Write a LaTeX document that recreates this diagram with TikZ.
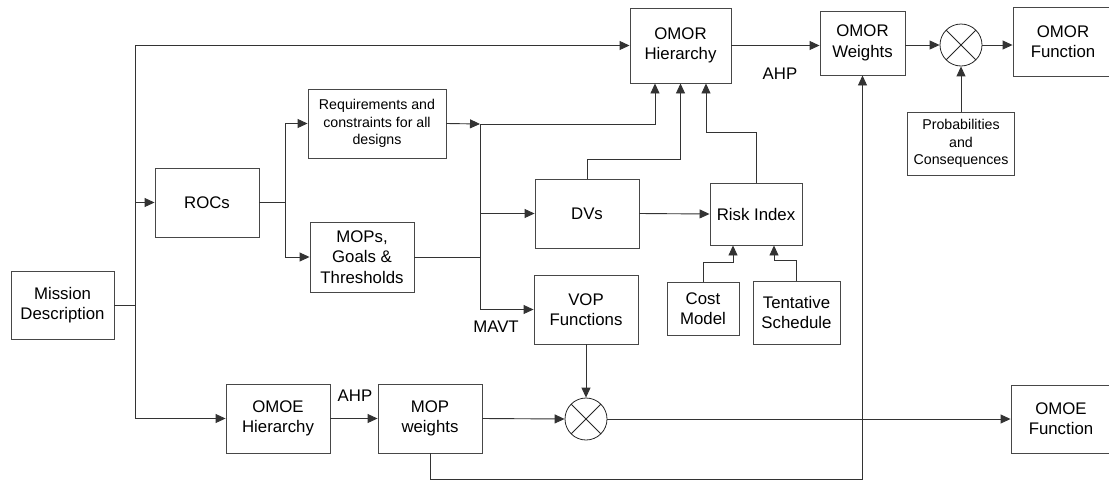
\documentclass[tikz,border=0pt]{standalone}
\usepackage{fontspec}
\setmainfont{Liberation Sans}
\usetikzlibrary{arrows.meta}
\newcommand\bigf{\fontsize{16.8}{20.3}\selectfont}
\newcommand\smallf{\fontsize{14.2}{17.3}\selectfont}
\begin{document}
\begin{tikzpicture}[x=1pt,y=-1pt,
  box/.style={draw=black!72, line width=0.9pt, inner sep=0pt, align=center, font=\bigf, text=black},
  ln/.style={draw=black!80, line width=0.9pt},
  arr/.style={ln, -{Triangle[length=10pt,width=9pt]}},
  mult/.style={circle, draw=black!85, line width=0.8pt, minimum size=42pt, inner sep=0pt,
    path picture={\draw[black!85,line width=0.8pt] (path picture bounding box.north west) -- (path picture bounding box.south east) (path picture bounding box.north east) -- (path picture bounding box.south west);}},
  lbl/.style={font=\bigf, inner sep=0pt}]
\useasboundingbox (0,0) rectangle (1109,480);
% nodes
\node[box, minimum width=103pt, minimum height=68pt] (mission) at (62.5,305) {Mission\\Description};
\node[box, minimum width=104pt, minimum height=69pt] (rocs) at (207,202.5) {ROCs};
\node[box, font=\smallf, minimum width=138pt, minimum height=69pt] (req) at (377,123.5) {Requirements and\\constraints for all\\designs};
\node[box, minimum width=104pt, minimum height=70pt] (mops) at (362,257) {MOPs,\\Goals \&\\Thresholds};
\node[box, minimum width=104pt, minimum height=69pt] (dvs) at (587,213.5) {DVs};
\node[box, minimum width=104pt, minimum height=69pt] (vop) at (586,309.5) {VOP\\Functions};
\node[box, minimum width=92pt, minimum height=62pt] (risk) at (756,214) {Risk Index};
\node[box, minimum width=72pt, minimum height=53pt] (cost) at (703,308.5) {Cost\\Model};
\node[box, minimum width=87pt, minimum height=63pt] (tent) at (796.5,312.5) {Tentative\\Schedule};
\node[box, minimum width=101pt, minimum height=75pt] (omorh) at (680.5,45.5) {OMOR\\Hierarchy};
\node[box, minimum width=85pt, minimum height=64pt] (omorw) at (862.5,43) {OMOR\\Weights};
\node[mult] (omorx) at (961,45) {};
\node[box, minimum width=100pt, minimum height=69pt] (omorf) at (1063,41.5) {OMOR\\Function};
\node[box, font=\smallf, minimum width=107pt, minimum height=63pt] (prob) at (961,143.5) {Probabilities\\and\\Consequences};
\node[box, minimum width=104pt, minimum height=69pt] (omoeh) at (278,418.5) {OMOE\\Hierarchy};
\node[box, minimum width=104pt, minimum height=69pt] (mopw) at (430,418.5) {MOP\\weights};
\node[mult] (omoex) at (586,419) {};
\node[box, minimum width=100pt, minimum height=68pt] (omoef) at (1061,419) {OMOE\\Function};
% labels
\node[lbl] (ahp1) at (780,74) {AHP};
\node[lbl] (ahp2) at (355,396) {AHP};
\node[lbl] (mavt) at (496,327) {MAVT};
% junctions
\coordinate (mj) at (135.5,305);
\coordinate (rj) at (285,202.5);
\coordinate (bj) at (480,124);
% connectors
\draw[arr] (mission.east) -- (mj) |- (omorh.west);
\draw[arr] (mj) |- (rocs.west);
\draw[arr] (mj) |- (omoeh.west);
\draw[arr] (rocs.east) -- (rj) |- (req.west);
\draw[arr] (rj) |- (mops.west);
\draw[arr] (req.east) -- (bj);
\draw[ln] (mops.east) -- (mops.east -| bj);
\draw[arr] (bj) |- (vop.west);
\draw[arr] (bj |- dvs.west) -- (dvs.west);
\draw[arr] (bj) -| ([xshift=-25.5pt]omorh.south);
\draw[arr] (dvs.north) -- ++(0,-19) -| (omorh.south);
\draw[arr] (risk.north) -- ++(0,-50) -| ([xshift=25.5pt]omorh.south);
\draw[arr] (dvs.east) -- (risk.west);
\draw[arr] (cost.north) -- ++(0,-19.5) -| ([xshift=-23pt]risk.south);
\draw[arr] (tent.north) -- ++(0,-20) -| ([xshift=18pt]risk.south);
\draw[arr] (omorh.east) -- (omorw.west |- omorh.east);
\draw[arr] (omorw.east |- omorx.west) -- (omorx.west);
\draw[arr] (omorx.east) -- (omorf.west |- omorx.east);
\draw[arr] (prob.north) -- (omorx.south);
\draw[arr] (omoeh.east) -- (mopw.west);
\draw[arr] (mopw.east) -- (omoex.west);
\draw[arr] (vop.south) -- (omoex.north);
\draw[arr] (omoex.east) -- (omoef.west |- omoex.east);
\draw[arr] (mopw.south) -- ++(0,26) -| (omorw.south);
\end{tikzpicture}
\end{document}
